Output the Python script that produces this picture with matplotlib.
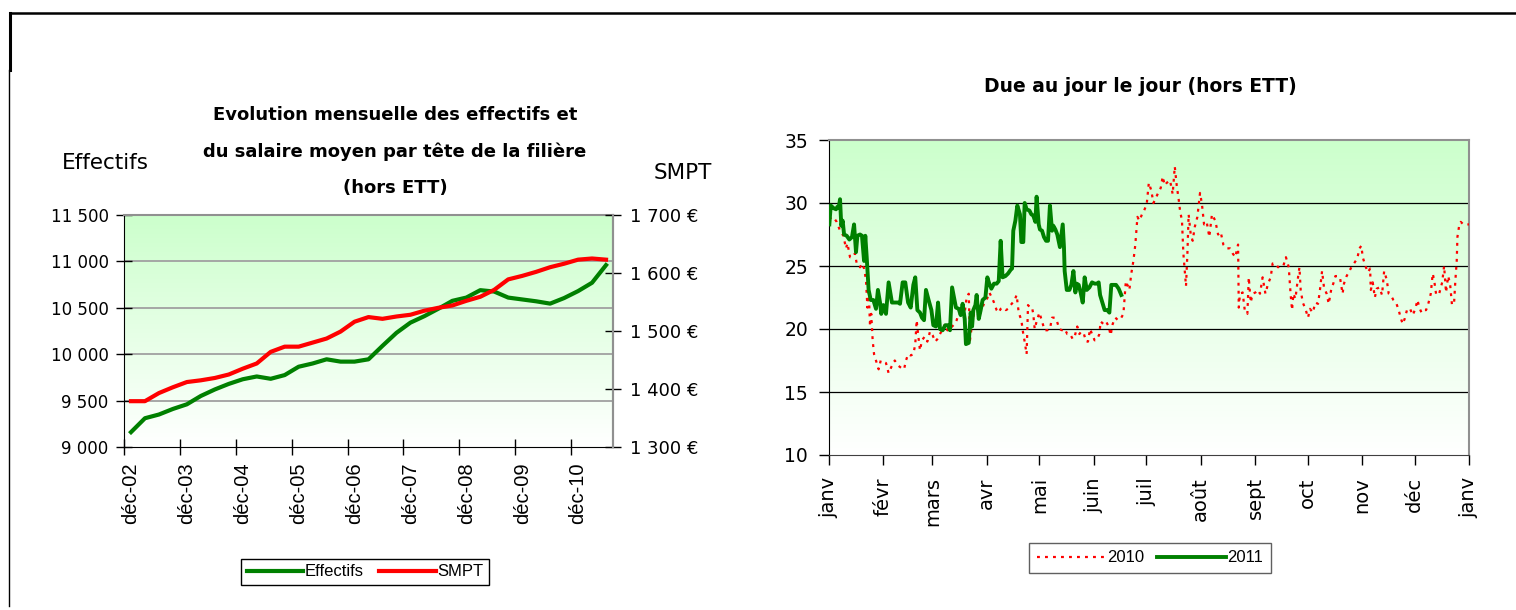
import numpy as np
import matplotlib
matplotlib.use("Agg")
import matplotlib.pyplot as plt
from matplotlib.colors import LinearSegmentedColormap
from matplotlib.lines import Line2D

# --- Graphique de gauche : données trimestrielles (déc-02 -> juin-11) ---
effectifs = [9160, 9310, 9350, 9410, 9460, 9550, 9620, 9680, 9730, 9760,
             9735, 9775, 9865, 9900, 9945, 9920, 9920, 9945, 10090, 10230,
             10340, 10410, 10490, 10575, 10610, 10690, 10675, 10610, 10590, 10570,
             10545, 10605, 10680, 10770, 10960]
smpt = [1379, 1379, 1393, 1403, 1412, 1415, 1419, 1425, 1435, 1444,
        1464, 1473, 1473, 1480, 1487, 1499, 1516, 1524, 1521, 1525,
        1528, 1535, 1540, 1544, 1552, 1559, 1571, 1589, 1595, 1602,
        1610, 1616, 1623, 1625, 1623]
etiquettes_x = ["déc-02", "déc-03", "déc-04", "déc-05", "déc-06",
                "déc-07", "déc-08", "déc-09", "déc-10"]
ticks_eff = [9000, 9500, 10000, 10500, 11000, 11500]
labels_eff = ["9 000", "9 500", "10 000", "10 500", "11 000", "11 500"]
ticks_smpt = [1300, 1400, 1500, 1600, 1700]
labels_smpt = ["1 300 €", "1 400 €", "1 500 €", "1 600 €", "1 700 €"]

# --- Graphique de droite : jour de l'année / valeur ---
jours_2011 = [0.2, 1.0, 2.5, 4.0, 4.8, 5.5, 6.3, 7.0, 7.8, 8.6,
              10.1, 11.6, 13.1, 14.3, 15.4, 16.2, 17.7, 18.8, 20.0, 20.7,
              21.5, 22.6, 23.8, 25.3, 26.8, 27.9, 29.1, 29.8, 31.0, 32.5,
              34.0, 35.9, 37.8, 39.4, 40.5, 42.0, 43.5, 45.1, 46.6, 48.1,
              49.2, 50.4, 51.9, 53.0, 54.2, 55.3, 56.8, 58.4, 59.5, 61.0,
              62.2, 63.3, 64.8, 66.3, 67.9, 69.0, 70.2, 71.3, 72.4, 74.0,
              75.1, 76.2, 77.4, 78.1, 79.7, 80.8, 81.6, 82.3, 83.5, 84.2,
              85.4, 86.5, 87.6, 89.2, 90.3, 91.4, 92.6, 94.1, 95.6, 96.8,
              97.9, 99.0, 100.6, 102.1, 103.6, 104.4, 105.1, 106.3, 107.4, 108.9,
              109.7, 110.8, 111.6, 112.7, 114.3, 115.4, 116.5, 117.7, 118.4, 119.6,
              120.3, 121.5, 122.6, 123.8, 124.9, 126.0, 127.2, 127.9, 129.1, 130.2,
              131.7, 133.3, 134.0, 134.4, 135.6, 137.1, 138.2, 139.4, 140.5, 141.3,
              142.4, 143.5, 144.7, 145.8, 147.0, 148.5, 150.0, 151.5, 152.7, 153.8,
              154.6, 156.1, 157.2, 158.7, 159.9, 161.0, 162.2, 163.7, 165.2, 166.7]
valeurs_2011 = [28.3, 29.8, 29.6, 29.5, 29.7, 29.6, 30.3, 28.2, 28.6, 27.5,
                27.4, 27.1, 27.3, 28.3, 26.1, 27.4, 27.5, 27.4, 25.4, 27.4,
                25.7, 23.1, 22.3, 22.3, 21.6, 23.1, 22.1, 21.2, 21.9, 21.2,
                23.7, 22.1, 22.1, 22.1, 22.0, 23.7, 23.7, 22.1, 21.7, 23.5,
                24.1, 21.5, 21.3, 20.9, 20.7, 23.1, 22.3, 21.5, 20.3, 20.2,
                22.1, 20.0, 19.9, 20.3, 20.3, 19.9, 23.3, 22.5, 21.7, 21.6,
                21.1, 22.0, 20.8, 18.8, 18.9, 21.3, 20.2, 21.5, 21.9, 22.7,
                20.8, 21.5, 22.3, 22.5, 24.1, 23.6, 23.2, 23.6, 23.6, 23.8,
                27.0, 24.1, 24.2, 24.4, 24.7, 24.8, 27.8, 28.6, 29.8, 29.1,
                26.9, 26.9, 30.0, 29.5, 29.4, 29.1, 29.0, 28.5, 30.5, 28.3,
                27.9, 27.8, 27.3, 27.0, 27.0, 29.8, 27.8, 28.2, 27.9, 27.5,
                26.5, 28.3, 26.5, 24.6, 23.1, 23.1, 23.5, 24.6, 22.9, 23.6,
                23.5, 22.9, 22.1, 24.1, 23.1, 23.3, 23.7, 23.6, 23.6, 23.7,
                22.7, 22.0, 21.5, 21.5, 21.3, 23.5, 23.5, 23.5, 23.2, 22.7]

jours_2010 = [0.2, 1.5, 2.9, 4.4, 6.3, 8.2, 9.7, 10.5, 12.0, 13.5,
              14.8, 15.8, 17.7, 18.8, 20.0, 21.1, 21.9, 22.6, 23.4, 24.1,
              24.9, 25.7, 27.2, 28.3, 29.5, 31.0, 32.5, 34.0, 35.6, 37.5,
              39.4, 41.3, 42.8, 43.9, 45.1, 46.6, 48.1, 49.2, 50.0, 50.8,
              51.9, 53.0, 54.6, 56.1, 57.6, 59.1, 60.6, 61.8, 63.3, 64.8,
              66.3, 67.5, 69.0, 70.2, 71.7, 72.8, 74.0, 75.5, 77.0, 78.5,
              79.7, 80.4, 81.6, 82.7, 84.2, 85.4, 86.9, 88.4, 89.9, 91.4,
              92.9, 94.1, 95.6, 96.8, 97.9, 99.4, 100.9, 102.1, 103.6, 104.8,
              105.9, 107.0, 108.2, 109.7, 110.8, 111.6, 112.7, 113.5, 114.6, 115.8,
              116.5, 117.3, 118.4, 120.0, 121.5, 123.0, 124.5, 126.0, 127.2, 128.7,
              129.8, 131.4, 132.9, 134.4, 135.9, 137.5, 139.0, 140.1, 141.6, 142.8,
              143.9, 145.4, 146.6, 147.7, 148.9, 150.0, 151.5, 153.0, 154.2, 154.9,
              156.5, 158.0, 159.5, 160.6, 161.8, 163.3, 164.8, 166.3, 167.9, 169.3,
              171.3, 172.4, 173.6, 174.7, 175.9, 177.0, 178.5, 179.7, 181.2, 182.4,
              183.8, 185.0, 186.1, 187.7, 189.2, 190.3, 191.5, 192.6, 194.5, 196.0,
              197.2, 198.3, 199.5, 200.2, 201.3, 202.1, 202.9, 203.6, 204.4, 205.1,
              206.3, 207.4, 208.6, 210.1, 211.6, 212.7, 213.9, 215.4, 216.9, 218.4,
              220.3, 221.9, 223.4, 224.9, 226.8, 228.7, 230.2, 231.7, 233.3, 233.7,
              234.4, 235.9, 237.1, 238.6, 239.4, 240.5, 241.6, 243.2, 244.7, 245.8,
              247.3, 248.9, 250.4, 251.9, 253.0, 254.6, 256.1, 257.6, 259.1, 260.6,
              262.2, 263.3, 264.1, 264.8, 266.0, 267.5, 268.3, 269.0, 270.2, 271.7,
              273.2, 274.3, 275.9, 277.4, 278.9, 280.0, 281.2, 282.3, 283.8, 285.0,
              286.5, 287.6, 288.8, 289.9, 291.4, 292.9, 293.7, 295.2, 296.8, 297.9,
              299.4, 301.3, 302.5, 303.6, 304.4, 305.9, 307.4, 308.6, 309.0, 310.1,
              311.3, 312.4, 313.9, 315.4, 316.6, 318.1, 319.2, 320.3, 321.9, 323.4,
              324.9, 326.0, 327.2, 328.3, 329.8, 331.4, 332.9, 334.4, 335.6, 336.7,
              337.9, 339.0, 340.5, 341.6, 343.2, 344.3, 345.1, 346.2, 347.8, 349.7,
              350.8, 351.9, 353.1, 354.2, 355.3, 356.5, 357.2, 358.0, 358.4, 359.5,
              360.3, 361.8, 363.7, 365.0]
valeurs_2010 = [28.9, 28.7, 28.8, 28.5, 27.8, 27.4, 26.4, 26.8, 25.7, 25.7,
                26.0, 25.2, 24.9, 25.2, 24.8, 23.9, 21.7, 23.3, 20.2, 21.2,
                19.1, 18.0, 17.3, 16.8, 17.5, 17.4, 17.3, 16.5, 17.0, 17.5,
                17.1, 16.9, 16.8, 17.5, 18.0, 17.9, 18.0, 18.8, 20.7, 19.6,
                18.3, 19.1, 19.4, 19.0, 19.8, 19.5, 19.0, 19.2, 19.6, 20.0,
                20.4, 19.9, 19.9, 20.2, 20.4, 20.7, 21.2, 21.7, 20.9, 22.5,
                22.8, 19.1, 20.4, 21.2, 21.7, 20.9, 21.5, 22.0, 22.3, 22.9,
                22.5, 22.1, 21.5, 21.3, 21.6, 21.7, 21.5, 21.6, 21.9, 22.1,
                22.3, 22.7, 21.3, 20.7, 19.6, 19.0, 18.0, 21.9, 21.7, 21.7,
                21.2, 20.0, 20.6, 21.3, 20.6, 19.9, 19.9, 20.0, 20.9, 20.9,
                20.7, 20.0, 19.9, 20.0, 19.6, 19.6, 19.2, 19.4, 20.2, 19.6,
                19.8, 19.6, 19.0, 19.0, 20.0, 19.6, 19.1, 19.2, 19.6, 20.6,
                20.4, 20.6, 20.2, 19.5, 20.4, 20.9, 20.7, 20.8, 21.2, 23.8,
                23.1, 24.4, 25.4, 26.7, 28.9, 28.6, 29.1, 29.4, 29.9, 31.6,
                31.0, 30.0, 30.3, 30.8, 31.2, 32.1, 31.4, 31.6, 31.8, 30.7,
                32.9, 31.4, 30.2, 29.4, 28.6, 26.0, 24.6, 23.4, 26.0, 29.1,
                27.5, 27.0, 28.1, 28.9, 30.8, 29.9, 28.3, 28.5, 27.3, 29.1,
                28.6, 27.5, 27.7, 26.7, 26.4, 26.4, 26.0, 25.7, 26.7, 21.7,
                22.8, 22.9, 21.5, 21.2, 24.1, 22.1, 22.8, 22.9, 23.1, 22.8,
                24.1, 22.8, 23.6, 24.1, 25.2, 25.2, 24.9, 25.0, 25.0, 25.7,
                24.9, 22.7, 21.5, 22.8, 22.4, 24.1, 24.9, 23.1, 22.1, 21.6,
                20.9, 21.6, 21.3, 22.1, 22.0, 23.1, 24.6, 23.3, 22.8, 22.0,
                23.2, 23.6, 24.2, 24.2, 24.1, 22.8, 23.6, 24.2, 24.6, 24.9,
                25.2, 25.6, 26.4, 26.6, 25.7, 25.0, 24.5, 24.8, 23.1, 23.7,
                22.5, 23.2, 23.3, 22.7, 24.6, 23.9, 22.8, 22.7, 22.3, 22.1,
                21.5, 20.9, 20.4, 20.8, 21.6, 21.6, 21.1, 21.6, 22.3, 21.7,
                21.3, 21.5, 21.5, 21.9, 22.8, 24.4, 23.9, 22.8, 22.7, 23.7,
                25.0, 22.9, 24.2, 23.6, 21.9, 22.1, 23.8, 25.4, 27.3, 28.3,
                28.5, 28.3, 28.3, 28.3]
mois = ["janv", "févr", "mars", "avr", "mai", "juin", "juil",
        "août", "sept", "oct", "nov", "déc", "janv"]
debut_mois = [0, 31, 59, 90, 120, 151, 181, 212, 243, 273, 304, 334, 365]

VERT = "#008000"
ROUGE = "#ff0000"
COMIC = ["DejaVu Sans"]
ARIAL = ["Liberation Sans Narrow", "Liberation Sans"]

W, H = 1516, 610
fig = plt.figure(figsize=(W / 100, H / 100), dpi=100)
fig.patch.set_facecolor("white")


def fond_degrade(ax, x0, x1, y0, y1):
    cmap = LinearSegmentedColormap.from_list("fond", ["#ffffff", "#ccffcc"])
    grad = np.linspace(0, 1, 256).reshape(-1, 1)
    ax.imshow(grad, aspect="auto", cmap=cmap, origin="lower",
              extent=[x0, x1, y0, y1], zorder=0, interpolation="bilinear")


def boite(x0, y0, x1, y1):
    return [x0 / W, 1 - y1 / H, (x1 - x0) / W, (y1 - y0) / H]


# cadre extérieur
fig.add_artist(Line2D([10 / W, 1], [1 - 13 / H] * 2, color="black", lw=1.8))
fig.add_artist(Line2D([10 / W] * 2, [1 - 13 / H, 1 - 70 / H], color="black", lw=2.2))
fig.add_artist(Line2D([9 / W] * 2, [1 - 70 / H, 1 - 606 / H], color="black", lw=1))

# ---------------- graphique de gauche ----------------
ax = fig.add_axes(boite(124, 215, 613, 447))
n = len(effectifs)
x = np.arange(n) + 0.5
fond_degrade(ax, 0, n, 9000, 11500)
for yv in ticks_eff[1:-1]:
    ax.axhline(yv, color="#a0a0a0", lw=1.3, zorder=1)
ax.plot(x, effectifs, color=VERT, lw=3.0, zorder=3, label="Effectifs")
ax.set_xlim(0, n)
ax.set_ylim(9000, 11500)
ax.set_yticks(ticks_eff)
ax.set_yticklabels(labels_eff, family=COMIC, fontsize=12)
ax.set_xticks(np.arange(0, n, 4))
ax.set_xticklabels([])
ax.set_xticks(np.arange(0, n, 4)[:len(etiquettes_x)] + 0.5, minor=True)
ax.set_xticklabels(etiquettes_x, minor=True, rotation=90, family=ARIAL, fontsize=14.5)
ax.tick_params(axis="x", which="minor", length=0, pad=11)
ax.tick_params(axis="x", which="major", direction="inout", length=12, width=1)
ax.tick_params(axis="y", direction="inout", length=12, width=1, pad=5)
for s in ["top", "right"]:
    ax.spines[s].set_color("#909090")
    ax.spines[s].set_linewidth(1.5)

ax2 = ax.twinx()
ax2.plot(x, smpt, color=ROUGE, lw=3.0, zorder=3, label="SMPT")
ax2.set_ylim(1300, 1700)
ax2.set_yticks(ticks_smpt)
ax2.set_yticklabels(labels_smpt, family=COMIC, fontsize=13)
ax2.tick_params(axis="y", direction="inout", length=12, width=1, pad=6)
ax2.spines["right"].set_color("#909090")
ax2.spines["right"].set_linewidth(1.5)
ax2.spines["top"].set_visible(False)
ax2.spines["left"].set_visible(False)
ax2.spines["bottom"].set_visible(False)

titre_g = ["Evolution mensuelle des effectifs et",
           "du salaire moyen par tête de la filière",
           "(hors ETT)"]
for ligne, yp in zip(titre_g, [115, 152, 188]):
    fig.text(395 / W, 1 - yp / H, ligne, ha="center", va="center",
             family=COMIC, fontsize=13, fontweight="bold")
fig.text(105 / W, 1 - 163 / H, "Effectifs", ha="center", va="center",
         family=COMIC, fontsize=15.5)
fig.text(683 / W, 1 - 173 / H, "SMPT", ha="center", va="center",
         family=COMIC, fontsize=15.5)

h1, l1 = ax.get_legend_handles_labels()
h2, l2 = ax2.get_legend_handles_labels()
leg = fig.legend(h1 + h2, l1 + l2, loc="center", bbox_to_anchor=(365 / W, 1 - 572 / H),
                 ncol=2, frameon=True, fancybox=False, framealpha=1,
                 edgecolor="black", handlelength=3.4, handletextpad=0.1,
                 columnspacing=0.9, borderpad=0.35,
                 prop={"family": ARIAL, "size": 12})
leg.get_frame().set_linewidth(1)

# ---------------- graphique de droite ----------------
bx = fig.add_axes(boite(829, 140, 1469, 455))
fond_degrade(bx, 0, 365, 10, 35)
for yv in [15, 20, 25, 30]:
    bx.axhline(yv, color="black", lw=0.9, zorder=1)
bx.plot(jours_2010, valeurs_2010, color=ROUGE, lw=1.6, ls=(0, (1.3, 2.3)),
        zorder=3, label="2010")
bx.plot(jours_2011, valeurs_2011, color=VERT, lw=2.8, zorder=4, label="2011")
bx.set_xlim(0, 365)
bx.set_ylim(10, 35)
bx.set_yticks([10, 15, 20, 25, 30, 35])
bx.set_yticklabels(["10", "15", "20", "25", "30", "35"], family=COMIC, fontsize=13.5)
bx.set_xticks(debut_mois)
bx.set_xticklabels(mois, rotation=90, family=COMIC, fontsize=14)
bx.tick_params(axis="x", direction="out", length=7, width=1, pad=9)
bx.tick_params(axis="y", direction="out", length=7, width=1, pad=8)
for s in ["top", "right"]:
    bx.spines[s].set_color("#909090")
    bx.spines[s].set_linewidth(1.5)
bx.spines["bottom"].set_color("#404040")

fig.text(1140 / W, 1 - 86 / H, "Due au jour le jour (hors ETT)", ha="center",
         va="center", family=COMIC, fontsize=13.5, fontweight="bold")

leg2 = fig.legend(*bx.get_legend_handles_labels(), loc="center",
                  bbox_to_anchor=(1150 / W, 1 - 558 / H), ncol=2, frameon=True,
                  fancybox=False, framealpha=1, edgecolor="#606060",
                  handlelength=4.1, handletextpad=0.1, columnspacing=0.8,
                  borderpad=0.45, prop={"family": ARIAL, "size": 12})
leg2.get_frame().set_linewidth(1)

fig.savefig("out.png", dpi=100)
